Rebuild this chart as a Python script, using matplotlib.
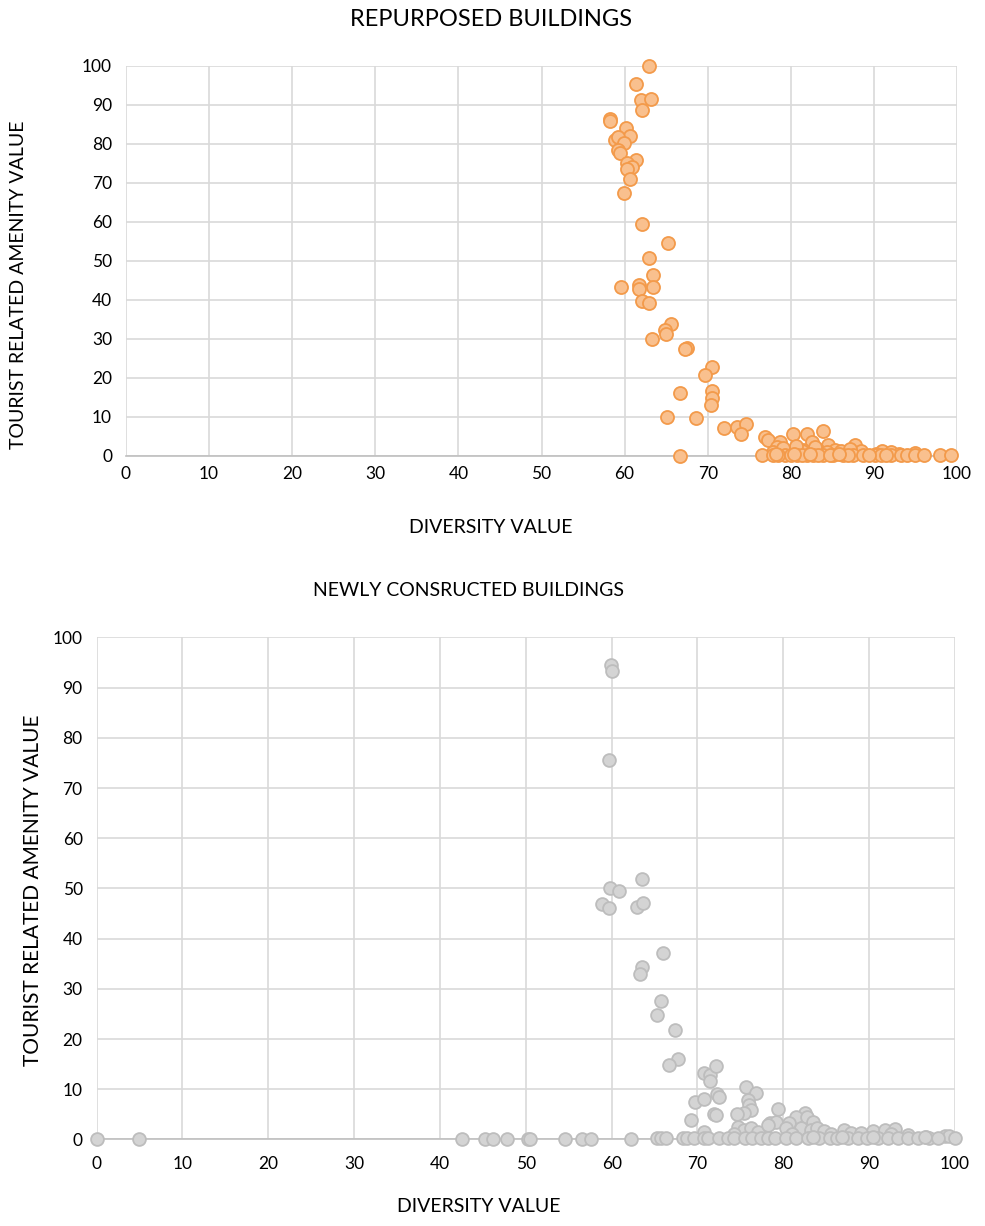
import matplotlib.pyplot as plt

plt.rcParams['font.family'] = ['Lato', 'DejaVu Sans']

# repurposed buildings: diversity value vs tourist related amenity value
repurposed_x = [62.9, 61.35, 61.95, 63.15, 62.07, 58.25, 58.25, 60.2, 60.7, 58.8,
                59.25, 59.9, 59.25, 59.4, 61.35, 60.25, 60.9, 60.25, 60.6, 59.9,
                62.15, 65.26, 62.96, 63.36, 59.6, 61.75, 61.75, 63.45, 62.07, 62.88,
                65.6, 64.9, 64.97, 63.24, 67.5, 67.3, 70.5, 69.7, 70.5, 70.5,
                70.4, 66.7, 65.1, 68.6, 66.66, 72.0, 73.55, 74.6, 74.0,
                76.9, 77.3, 78.7, 80.3, 82.0, 83.9, 82.6, 84.5, 87.75, 85.3,
                81.5, 78.3, 79.5, 77.9, 81.3, 83.2, 86.0, 88.5, 91.0, 92.0,
                93.0, 95.0, 80.6, 82.9, 79.0, 84.3, 87.1, 90.2,
                76.5, 77.9, 79.3, 80.7, 81.9, 82.7, 83.9, 85.1, 86.3, 87.5,
                88.7, 90.1, 90.8, 92.0, 93.2, 94.0, 95.0, 96.0, 98.0, 99.3,
                78.5, 80.0, 81.3, 83.3, 84.7, 86.9, 89.4, 91.5, 78.2, 80.4,
                82.3, 85.8]
repurposed_y = [100.0, 95.3, 91.2, 91.5, 88.6, 86.5, 85.8, 84.2, 82.0, 81.0,
                81.8, 80.3, 78.4, 77.7, 76.0, 75.0, 74.1, 73.5, 70.9, 67.3,
                59.4, 54.6, 50.7, 46.4, 43.4, 43.8, 42.9, 43.2, 39.8, 39.2,
                33.8, 32.3, 31.3, 29.9, 27.8, 27.4, 22.7, 20.8, 16.7, 14.8,
                13.1, 16.2, 10.0, 9.8, 0.1, 7.1, 7.5, 8.1, 5.6,
                4.9, 4.0, 3.6, 5.5, 5.7, 6.4, 3.6, 2.7, 2.7, 1.6,
                1.5, 2.3, 1.0, 1.0, 1.2, 1.8, 1.3, 1.2, 1.3, 1.0,
                0.6, 0.8, 2.6, 2.3, 2.0, 1.0, 1.8, 0.6,
                0.2, 0.2, 0.2, 0.2, 0.2, 0.2, 0.2, 0.2, 0.2, 0.2,
                0.2, 0.2, 0.2, 0.2, 0.2, 0.2, 0.2, 0.2, 0.2, 0.2,
                0.3, 0.3, 0.3, 0.3, 0.3, 0.3, 0.3, 0.3, 0.5, 0.6,
                0.4, 0.5]

# newly constructed buildings
new_x = [59.9, 60.03, 59.65, 63.5, 59.8, 60.9, 58.9, 59.7, 62.9, 63.6,
         66.0, 63.5, 63.3, 65.7, 65.3, 67.4, 67.75, 66.7, 70.7, 71.4,
         72.2, 71.4, 69.75, 70.7, 72.3, 72.5, 71.9, 72.2, 69.2, 75.6,
         76.8, 75.9, 76.0, 76.25, 75.45, 74.6, 79.4, 78.4, 79.1, 74.7,
         75.45, 76.2, 77.0, 82.5, 81.5, 82.8, 83.4, 80.7, 78.2, 82.1,
         83.2, 80.3, 83.9, 84.7, 87.1, 87.9, 90.4, 91.8, 93.0, 96.6,
         98.8, 99.3, 70.8, 74.3, 81.0, 85.5, 89.0, 92.5, 94.5,
         0.0, 4.9, 42.6, 45.3, 46.2, 47.8, 50.3, 50.5, 54.6, 56.5,
         57.6, 62.2, 65.3, 65.7, 66.3, 68.3, 68.8, 69.6, 70.8, 71.2,
         72.5, 73.5, 74.3, 75.5, 76.4, 77.4, 78.2, 79.0, 80.3, 81.5,
         82.9, 84.2, 85.4, 86.3, 87.5, 88.7, 89.8, 91.0, 92.2, 93.3,
         94.5, 95.7, 97.0, 98.0, 100.0, 83.5, 86.8, 90.5, 96.5]
new_y = [94.5, 93.3, 75.5, 51.9, 50.0, 49.4, 46.9, 46.1, 46.3, 47.1,
         37.2, 34.3, 32.9, 27.5, 24.7, 21.8, 16.0, 14.8, 13.3, 12.9,
         14.7, 11.7, 7.4, 8.0, 9.1, 8.5, 5.1, 4.9, 3.9, 10.4,
         9.3, 7.9, 6.9, 5.9, 5.2, 5.0, 6.0, 3.3, 3.5, 2.5,
         1.9, 2.2, 1.5, 5.2, 4.4, 4.5, 3.5, 3.2, 2.9, 2.2,
         1.9, 2.2, 2.2, 1.6, 1.9, 1.2, 1.6, 1.9, 2.0, 0.4,
         0.6, 0.6, 1.4, 1.0, 1.0, 1.0, 1.3, 1.0, 0.8,
         0.0, 0.0, 0.0, 0.0, 0.0, 0.0, 0.0, 0.0, 0.0, 0.0,
         0.0, 0.0, 0.2, 0.2, 0.2, 0.2, 0.2, 0.2, 0.2, 0.2,
         0.2, 0.2, 0.2, 0.2, 0.2, 0.2, 0.2, 0.2, 0.2, 0.2,
         0.2, 0.2, 0.2, 0.2, 0.2, 0.2, 0.2, 0.2, 0.2, 0.2,
         0.2, 0.2, 0.2, 0.2, 0.2, 0.5, 0.5, 0.5, 0.5]

ticks = [0, 10, 20, 30, 40, 50, 60, 70, 80, 90, 100]

fig = plt.figure(figsize=(9.85, 12.26), dpi=100)
ax1 = fig.add_axes([0.1279, 0.6281, 0.8437, 0.3181])
ax2 = fig.add_axes([0.098, 0.0706, 0.8716, 0.4095])


def style(ax, xpad):
    ax.set_xlim(0, 100)
    ax.set_ylim(0, 100)
    ax.set_xticks(ticks)
    ax.set_yticks(ticks)
    ax.grid(True, color='#D9D9D9', linewidth=1.2)
    ax.set_axisbelow(True)
    for s in ['top', 'right', 'left']:
        ax.spines[s].set_visible(False)
    ax.spines['bottom'].set_color('#BFBFBF')
    ax.spines['bottom'].set_linewidth(1.2)
    ax.tick_params(length=0, labelsize=12.5, colors='black')
    ax.tick_params(axis='y', pad=10)
    ax.tick_params(axis='x', pad=xpad)


style(ax1, 7)
ax1.scatter(repurposed_x, repurposed_y, s=88, facecolor='#F9C08E',
            edgecolor='#F39A4A', linewidth=1.3, clip_on=False, zorder=3)

style(ax2, 12)
ax2.scatter(new_x, new_y, s=85, facecolor='#D4D4D4',
            edgecolor='#BDBDBD', linewidth=1.3, clip_on=False, zorder=3)

# titles and axis labels
fig.text(0.4985, 0.9837, 'REPURPOSED BUILDINGS', fontsize=17, ha='center', va='center')
fig.text(0.4985, 0.5701, 'DIVERSITY VALUE', fontsize=14, ha='center', va='center')
fig.text(0.0183, 0.7675, 'TOURIST RELATED AMENITY VALUE', fontsize=14,
         rotation=90, ha='center', va='center')
fig.text(0.4755, 0.518, 'NEWLY CONSRUCTED BUILDINGS', fontsize=14, ha='center', va='center')
fig.text(0.4863, 0.0163, 'DIVERSITY VALUE', fontsize=14, ha='center', va='center')
fig.text(0.0335, 0.274, 'TOURIST RELATED AMENITY VALUE', fontsize=15,
         rotation=90, ha='center', va='center')

fig.savefig('out.png', dpi=100, facecolor='white')
